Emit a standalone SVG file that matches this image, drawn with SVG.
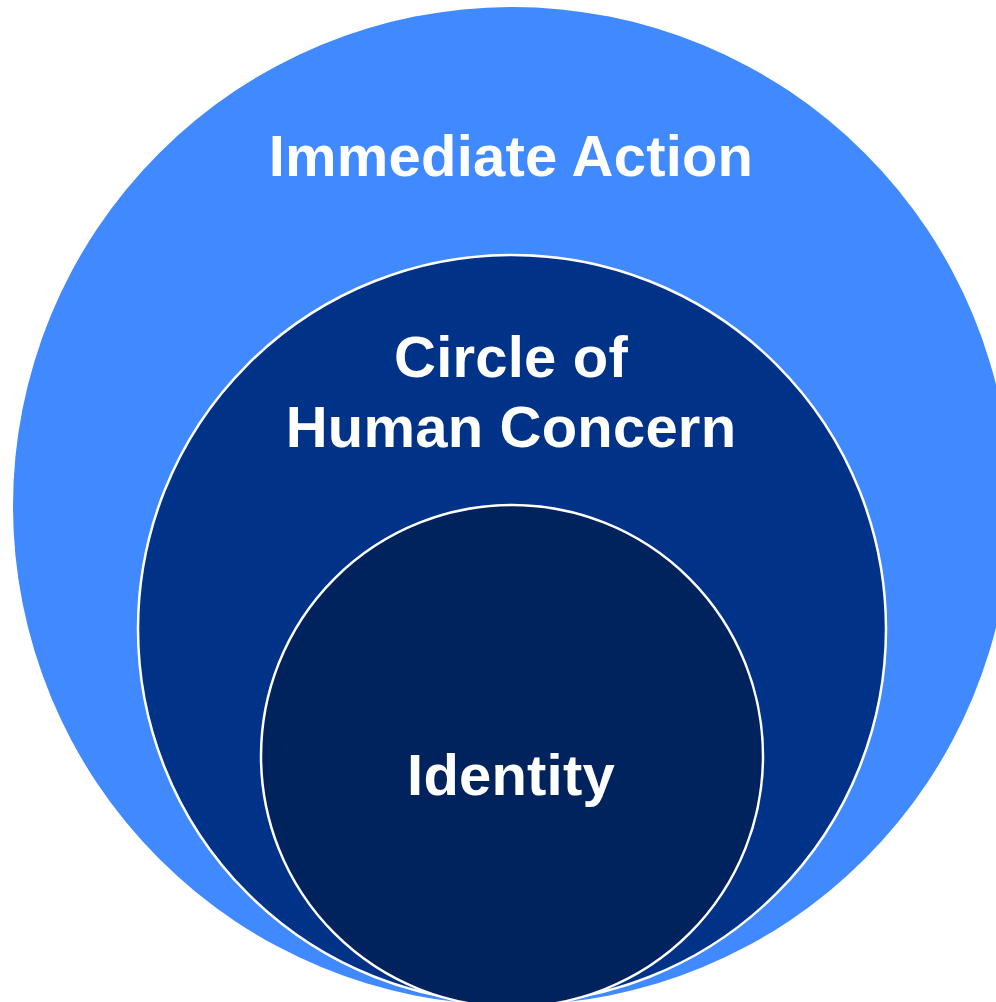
<svg xmlns="http://www.w3.org/2000/svg" width="996" height="1002" viewBox="0 0 996 1002">
<style>
.lbl{font-family:"Liberation Sans",Arial,sans-serif;font-weight:bold;font-size:58px;letter-spacing:0.2px;fill:#fff;text-anchor:middle}
.ring{stroke:#fff;stroke-width:2.5}
</style>
<rect width="996" height="1002" fill="#fff"/>
<g id="outer">
<circle cx="512" cy="506" r="499" fill="#4089FF"/>
<text class="lbl" x="511" y="176">Immediate Action</text>
</g>
<g id="middle">
<circle class="ring" cx="512" cy="629" r="374" fill="#003388"/>
<text class="lbl" x="511" y="377">Circle of</text>
<text class="lbl" x="511" y="447">Human Concern</text>
</g>
<g id="inner">
<circle class="ring" cx="512" cy="756" r="251" fill="#00235E"/>
<text class="lbl" x="511" y="795">Identity</text>
</g>
<g id="connectors"/>
</svg>
